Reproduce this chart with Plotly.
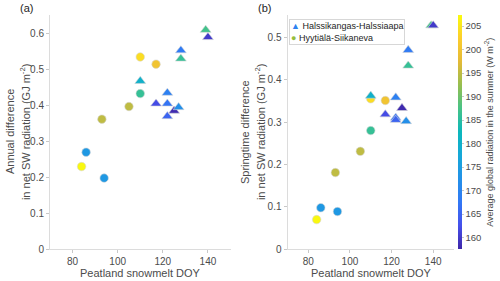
import plotly.graph_objects as go

# Halssikangas-Halssiaapa (triangles)
h_doy = [110, 117, 122, 122, 122, 125, 127, 128, 128, 139, 140]
h_annual = [0.468, 0.405, 0.435, 0.405, 0.370, 0.385, 0.395, 0.553, 0.530, 0.610, 0.590]
h_spring = [0.362, 0.318, 0.358, 0.310, 0.305, 0.333, 0.302, 0.470, 0.433, 0.528, 0.528]
h_rad = [180, 162, 169, 167, 165, 158, 172, 168, 186, 187, 160]

# Hyytiälä-Siikaneva (circles)
s_doy = [84, 86, 93, 94, 105, 110, 110, 117]
s_annual = [0.230, 0.270, 0.362, 0.198, 0.397, 0.535, 0.433, 0.515]
s_spring = [0.070, 0.098, 0.181, 0.089, 0.231, 0.355, 0.280, 0.351]
s_rad = [207, 174, 195, 174, 195, 204, 186, 200]

x_ticks = [80, 100, 120, 140]
y1_ticks = [0, 0.1, 0.2, 0.3, 0.4, 0.5, 0.6]
y2_ticks = [0, 0.1, 0.2, 0.3, 0.4, 0.5]
cb_ticks = [160, 165, 170, 175, 180, 185, 190, 195, 200, 205]

parula = [
    [0.0, "rgb(62,38,168)"],
    [0.1, "rgb(70,80,235)"],
    [0.2, "rgb(50,120,245)"],
    [0.3, "rgb(35,145,232)"],
    [0.4, "rgb(22,168,216)"],
    [0.5, "rgb(12,183,188)"],
    [0.6, "rgb(70,195,135)"],
    [0.7, "rgb(150,190,80)"],
    [0.8, "rgb(228,186,55)"],
    [0.9, "rgb(252,205,45)"],
    [1.0, "rgb(249,251,14)"],
]

FONT = "Liberation Sans, Arial, sans-serif"
GREY = "rgb(75,75,75)"
fig = go.Figure()

def add(x, y, c, sym, size, xa, ya):
    fig.add_trace(go.Scatter(
        x=x, y=y, mode="markers", xaxis=xa, yaxis=ya, showlegend=False,
        marker=dict(symbol=sym, size=size, color=c, coloraxis="coloraxis",
                    line=dict(width=0.6, color="rgb(215,215,215)")),
    ))

add(s_doy, s_annual, s_rad, "circle", 8.5, "x", "y")
add(h_doy, h_annual, h_rad, "triangle-up", 9.5, "x", "y")
add(s_doy, s_spring, s_rad, "circle", 8.5, "x2", "y2")
add(h_doy, h_spring, h_rad, "triangle-up", 9.5, "x2", "y2")

axcommon = dict(showgrid=False, zeroline=False, showline=True, linecolor="rgb(220,220,220)",
                linewidth=1, ticks="outside", ticklen=3, tickcolor="rgb(200,200,200)",
                automargin=False,
                tickfont=dict(size=10, color=GREY, family=FONT))
tfont = dict(size=11, color=GREY, family=FONT)

legend_text = ("<span style='color:rgb(46,130,240)'>▲</span> Halssikangas-Halssiaapa<br>"
               "<span style='color:rgb(150,190,60)'>●</span> Hyytiälä-Siikaneva")

def ytitle(text, xpx):
    return dict(text=text, x=xpx / 500, y=0.53, xref="paper", yref="paper",
                xanchor="center", yanchor="middle", textangle=-90, showarrow=False, font=tfont)

fig.update_layout(
    width=500, height=281, margin=dict(l=0, r=0, t=0, b=0),
    paper_bgcolor="white", plot_bgcolor="white",
    font=dict(family=FONT, color=GREY),
    xaxis=dict(domain=[0.1, 0.461], range=[70, 150], tickvals=x_ticks,
               anchor="y", **axcommon),
    yaxis=dict(domain=[0.113, 0.947], range=[0, 0.652], tickvals=y1_ticks,
               ticktext=[f"{v:g}" for v in y1_ticks], anchor="x", **axcommon),
    xaxis2=dict(domain=[0.575, 0.908], range=[70, 150], tickvals=x_ticks,
                anchor="y2", **axcommon),
    yaxis2=dict(domain=[0.113, 0.947], range=[0, 0.553], tickvals=y2_ticks,
                ticktext=[f"{v:g}" for v in y2_ticks], anchor="x2", **axcommon),
    coloraxis=dict(
        colorscale=parula, cmin=157.5, cmax=207.3,
        colorbar=dict(
            x=0.915, xanchor="left", y=0.113, yanchor="bottom", len=0.834, lenmode="fraction",
            thickness=4, outlinewidth=0, ticks="outside", ticklen=2, tickcolor="rgb(200,200,200)",
            tickvals=cb_ticks, xpad=0, ypad=0,
            tickfont=dict(size=9.5, color=GREY, family=FONT),
            title=dict(text="Average global radiation in the summer (W m<sup>-2</sup>)",
                       side="right", font=dict(size=9, color=GREY, family=FONT)),
        ),
    ),
    annotations=[
        dict(text="(a)", x=0.035, y=1.0, xref="paper", yref="paper", xanchor="left", yanchor="top",
             showarrow=False, font=dict(size=11, color="rgb(30,30,30)")),
        dict(text="(b)", x=0.512, y=1.0, xref="paper", yref="paper", xanchor="left", yanchor="top",
             showarrow=False, font=dict(size=11, color="rgb(30,30,30)")),
        dict(text="Peatland snowmelt DOY", x=0.2805, y=0.029, xref="paper", yref="paper",
             xanchor="center", yanchor="middle", showarrow=False, font=tfont),
        dict(text="Peatland snowmelt DOY", x=0.7415, y=0.029, xref="paper", yref="paper",
             xanchor="center", yanchor="middle", showarrow=False, font=tfont),
        ytitle("Annual difference", 10),
        ytitle("in net SW radiation (GJ m<sup>-2</sup>)", 25),
        ytitle("Springtime difference", 245),
        ytitle("in net SW radiation (GJ m<sup>-2</sup>)", 260),
        dict(text=legend_text, x=0.578, y=0.932, xref="paper", yref="paper",
             xanchor="left", yanchor="top", align="left", showarrow=False,
             bgcolor="white", bordercolor="rgb(215,215,215)", borderwidth=1, borderpad=1,
             font=dict(size=9, color="rgb(30,30,30)", family=FONT)),
    ],
)

fig.write_html("out.html", config={"displayModeBar": False},
               post_script="document.body.style.margin='0px';document.body.style.overflow='hidden';")
